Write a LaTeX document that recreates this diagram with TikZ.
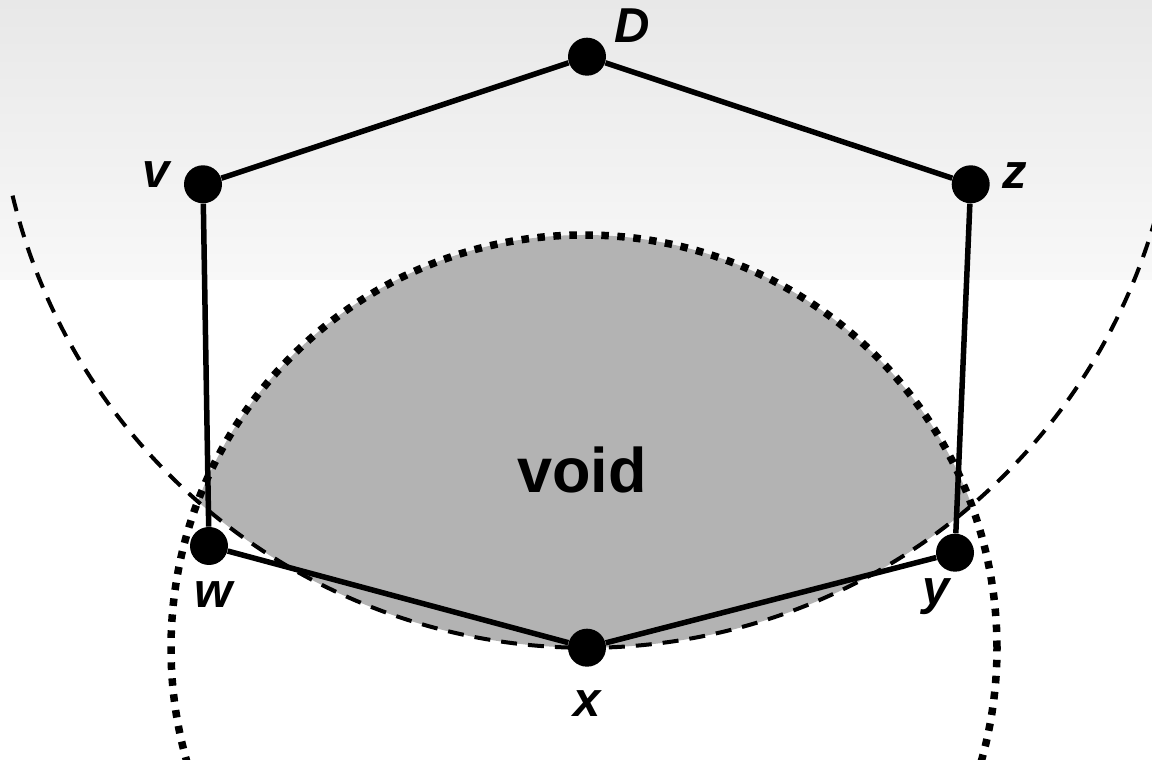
\documentclass[tikz,border=0pt]{standalone}
\usepackage{fontspec}
\setmainfont{Liberation Sans}
\setsansfont{Liberation Sans}
\definecolor{voidgray}{RGB}{179,179,179}
\definecolor{bgtop}{RGB}{232,232,232}
\definecolor{bgbot}{RGB}{248,248,248}
\tikzset{
  vertex/.style={circle,fill=black,inner sep=0pt,minimum size=19pt},
  edge/.style={line width=2.75pt},
  vlabel/.style={inner sep=0pt,anchor=base,font=\fontsize{24.5}{29}\selectfont\bfseries\itshape},
  voidlabel/.style={inner sep=0pt,anchor=base,font=\fontsize{31.5}{36}\selectfont\bfseries},
  bigdashed/.style={line width=2pt,dash pattern=on 8pt off 5.5pt},
  bigdotted/.style={line width=3.75pt,dash pattern=on 3.75pt off 4.25pt},
}
\begin{document}
\begin{tikzpicture}[x=0.5pt,y=0.5pt]
\useasboundingbox (0,0) rectangle (1152,760);
\clip (0,0) rectangle (1152,760);
% background gradient
\shade[top color=bgtop,bottom color=bgbot] (0,480) rectangle (1152,760);
% centres of the circles
\coordinate (cD) at (587,703.3);
\coordinate (cX) at (584,112);
% void region = intersection of the two disks
\begin{scope}
  \clip (cD) circle[radius=591];
  \fill[voidgray] (cX) circle[radius=413];
\end{scope}
% dashed circle round D
\draw[bigdashed] (cD) ++(193.6:591) arc[start angle=193.6,end angle=345,radius=591];
% dotted circle round x
\draw[bigdotted] (cX) circle[radius=413];
% vertices
\node[vertex] (nD) at (587,703.3) {};
\node[vertex] (nv) at (203,575.7) {};
\node[vertex] (nz) at (970.7,575.7) {};
\node[vertex] (nw) at (209,214) {};
\node[vertex] (ny) at (955,207.3) {};
\node[vertex] (nx) at (587,112.3) {};
% edges
\draw[edge] (nD) -- (nv);
\draw[edge] (nD) -- (nz);
\draw[edge] (nv) -- (nw);
\draw[edge] (nz) -- (ny);
\draw[edge] (nw) -- (nx);
\draw[edge] (nx) -- (ny);
% labels
\node[vlabel] (lD) at (631.7,717) {D};
\node[vlabel] (lv) at (155.8,572) {v};
\node[vlabel] (lz) at (1014.3,571.7) {z};
\node[vlabel] (lw) at (213.3,152) {w};
\node[vlabel] (ly) at (935.7,155) {y};
\node[vlabel] (lx) at (586.7,43) {x};
\node[voidlabel] (lvoid) at (582,267.3) {void};
\end{tikzpicture}
\end{document}
